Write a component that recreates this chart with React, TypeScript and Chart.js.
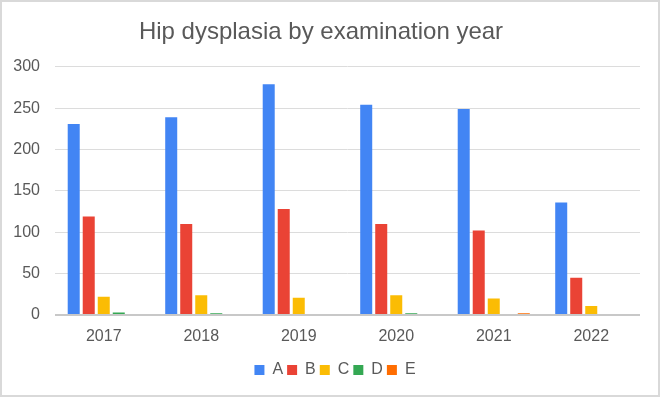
import React, { useEffect, useRef } from "react";
import { Chart, registerables } from "chart.js";

Chart.register(...registerables);

const years = ["2017", "2018", "2019", "2020", "2021", "2022"];
const seriesA = [231, 239, 279, 254, 249, 136];
const seriesB = [119, 110, 128, 110, 102, 45];
const seriesC = [22, 24, 21, 24, 20, 11];
const seriesD = [3, 2, 0, 2, 0, 0];
const seriesE = [0, 0, 0, 0, 2, 0];
const seriesNames = ["A", "B", "C", "D", "E"];
const seriesColors = ["#4285F4", "#EA4335", "#FBBC04", "#34A853", "#FF6D01"];
const titleText = "Hip dysplasia by examination year";

export default function App() {
  const ref = useRef<HTMLCanvasElement | null>(null);

  useEffect(() => {
    if (!ref.current) return;
    const values = [seriesA, seriesB, seriesC, seriesD, seriesE];
    const shiftLegend = {
      id: "shiftLegend",
      afterLayout(chart: any) {
        if (chart.legend) {
          chart.legend.left += 14;
          chart.legend.right += 14;
        }
      },
    };
    const chart = new Chart(ref.current, {
      type: "bar",
      data: {
        labels: years,
        datasets: values.map((v, i) => ({
          label: seriesNames[i],
          data: v,
          backgroundColor: seriesColors[i],
          borderWidth: 0,
          categoryPercentage: 0.77,
          barPercentage: 0.8,
        })),
      },
      options: {
        animation: false,
        responsive: false,
        maintainAspectRatio: false,
        layout: { padding: { left: 0, right: 18, top: 0, bottom: 7 } },
        plugins: {
          title: {
            display: true,
            text: titleText,
            color: "#595959",
            font: { family: "'Liberation Sans', Arial, sans-serif", size: 24, weight: "normal" },
            padding: { top: 16, bottom: 20 },
          },
          legend: {
            display: true,
            position: "bottom",
            labels: {
              boxWidth: 10,
              boxHeight: 10,
              padding: 4,
              color: "#595959",
              font: { family: "'Liberation Sans', Arial, sans-serif", size: 16 },
            },
          },
          tooltip: { enabled: false },
        },
        scales: {
          x: {
            grid: { display: false, drawTicks: false },
            border: { display: false },
            ticks: {
              padding: 12,
              color: "#595959",
              font: { family: "'Liberation Sans', Arial, sans-serif", size: 16 },
            },
            afterFit(scale: any) {
              scale.height = 43;
            },
          },
          y: {
            min: 0,
            max: 300,
            grid: {
              drawTicks: false,
              color: (ctx: any) => (ctx.tick && ctx.tick.value === 0 ? "#c8c8c8" : "#dcdcdc"),
              lineWidth: (ctx: any) => (ctx.tick && ctx.tick.value === 0 ? 2 : 1),
            },
            border: { display: false },
            ticks: {
              stepSize: 50,
              padding: 15,
              color: "#595959",
              font: { family: "'Liberation Sans', Arial, sans-serif", size: 16 },
            },
            afterFit(scale: any) {
              scale.width = 53;
            },
          },
        },
      },
      plugins: [shiftLegend],
    });
    return () => chart.destroy();
  }, []);

  return (
    <div
      style={{
        position: "fixed",
        left: 0,
        top: 0,
        width: 660,
        height: 397,
        boxSizing: "border-box",
        border: "2px solid #d9d9d9",
        background: "#ffffff",
      }}
    >
      <canvas ref={ref} width={656} height={393} style={{ display: "block", width: 656, height: 393 }} />
    </div>
  );
}
